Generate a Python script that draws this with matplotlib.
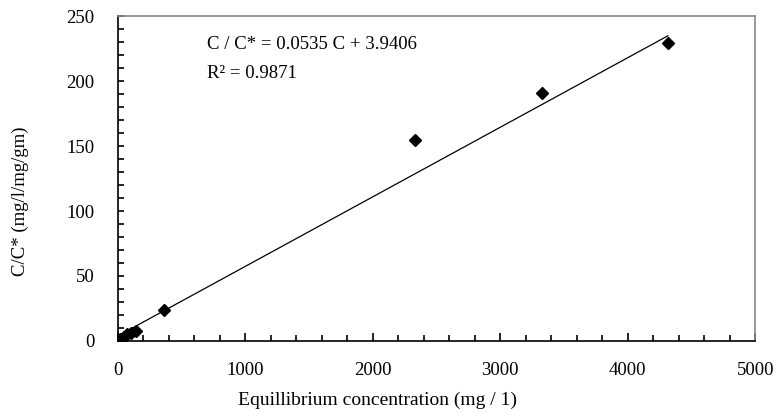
import matplotlib
matplotlib.use("Agg")
import matplotlib.pyplot as plt
from matplotlib.ticker import MultipleLocator

plt.rcParams["font.family"] = ["Liberation Serif", "DejaVu Serif"]

# equilibrium concentration (mg/l) and C/C* values
conc = [5, 20, 45, 75, 105, 140, 360, 2330, 3325, 4315]
ratio = [0.5, 1.5, 3.0, 5.0, 6.5, 8.0, 24, 155, 191, 229]

slope = 0.0535
intercept = 3.9406
r_squared = 0.9871

fig = plt.figure(figsize=(7.81, 4.16), dpi=100)
ax = fig.add_axes([0.151, 0.1803, 0.816, 0.7812])

ax.plot(conc, ratio, linestyle="none", marker="D", markersize=6.5,
        color="black")

x_fit = [min(conc), max(conc)]
y_fit = [slope * x + intercept for x in x_fit]
ax.plot(x_fit, y_fit, color="black", linewidth=0.9)

ax.set_xlim(0, 5000)
ax.set_ylim(0, 250)
ax.xaxis.set_major_locator(MultipleLocator(1000))
ax.xaxis.set_minor_locator(MultipleLocator(200))
ax.yaxis.set_major_locator(MultipleLocator(50))
ax.yaxis.set_minor_locator(MultipleLocator(10))
ax.tick_params(which="both", direction="in", top=False, right=False,
               labelsize=13.5, width=1.2)
ax.tick_params(axis="x", which="major", length=6, pad=15)
ax.tick_params(axis="x", which="minor", length=4)
ax.tick_params(axis="y", which="both", length=4, pad=17)

for side in ("left", "bottom"):
    ax.spines[side].set_color("black")
    ax.spines[side].set_linewidth(1.2)
for side in ("top", "right"):
    ax.spines[side].set_color("#888888")
    ax.spines[side].set_linewidth(1.2)

ax.set_xlabel("Equillibrium concentration (mg / 1)", fontsize=14)
ax.xaxis.set_label_coords(0.407, -0.155)
ax.set_ylabel("C/C* (mg/l/mg/gm)", fontsize=13.5)
ax.yaxis.set_label_coords(-0.14, 0.43)

ax.text(700, 228, f"C / C* = {slope} C + {intercept}", fontsize=13.5,
        va="center", ha="left")
ax.text(700, 206, f"R² = {r_squared}", fontsize=13.5,
        va="center", ha="left")

fig.savefig("out.png", dpi=100)
